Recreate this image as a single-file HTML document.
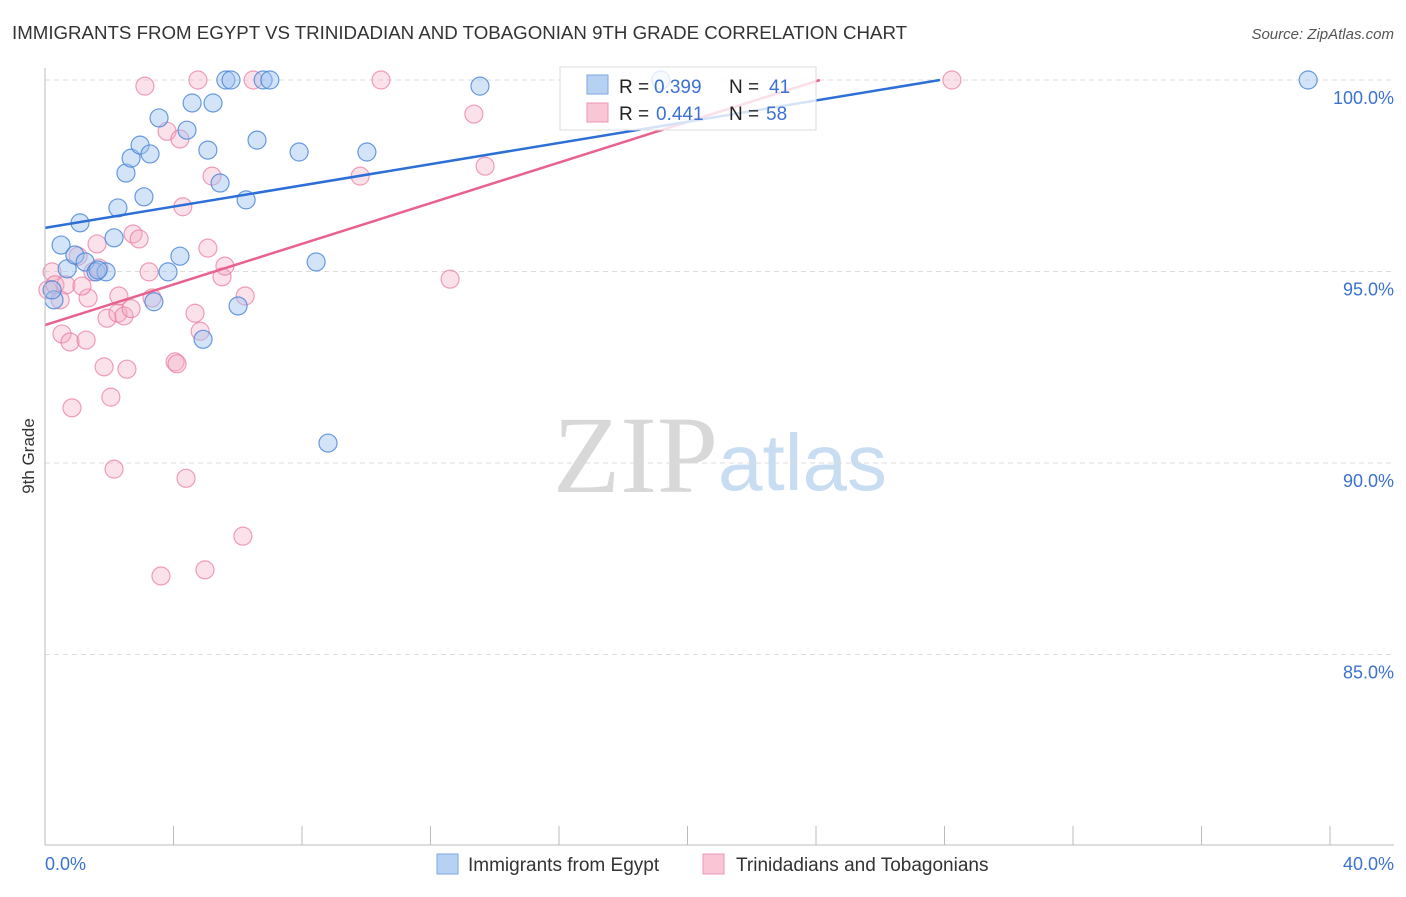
<!DOCTYPE html>
<html><head><meta charset="utf-8"><style>
body{margin:0;background:#fff;font-family:"Liberation Sans",sans-serif;}
</style></head><body>
<svg width="1406" height="892" xmlns="http://www.w3.org/2000/svg" id="svg">
<text x="12" y="39" font-size="18.7" fill="#333">IMMIGRANTS FROM EGYPT VS TRINIDADIAN AND TOBAGONIAN 9TH GRADE CORRELATION CHART</text>
<text x="1394" y="39" font-size="15" fill="#555" font-style="italic" text-anchor="end">Source: ZipAtlas.com</text>
<text x="34" y="456" font-size="17" fill="#333" transform="rotate(-90 34 456)" text-anchor="middle">9th Grade</text>
<text x="553" y="492" font-size="110" fill="#d8d8d8" font-family="Liberation Serif,serif">ZIP</text>
<text x="718" y="490" font-size="80" fill="#c8dcf2">atlas</text>
<g id="grid"></g><g id="pts"></g><g id="lines"></g>
<line x1="45" y1="68" x2="45" y2="845" stroke="#bbb"/>
<line x1="45" y1="845" x2="1394" y2="845" stroke="#bbb"/>
<text x="45" y="870" font-size="18" fill="#3b72d1">0.0%</text>
<text x="1394" y="870" font-size="18" fill="#3b72d1" text-anchor="end">40.0%</text>
<g>
<rect x="560" y="67" width="256" height="63" fill="#fff" fill-opacity="0.8" stroke="#ddd"/>
<rect x="587" y="75" width="21" height="19" fill="#b7d1f3" stroke="#7ea6e0"/>
<rect x="587" y="103" width="21" height="19" fill="#f8c6d5" stroke="#eb97b2"/>
<text x="619" y="93" font-size="19" fill="#222">R =</text>
<text x="654" y="93" font-size="19" fill="#3b72d1">0.399</text>
<text x="729" y="93" font-size="19" fill="#222">N =</text>
<text x="769" y="93" font-size="19" fill="#3b72d1">41</text>
<text x="619" y="120" font-size="19" fill="#222">R =</text>
<text x="656" y="120" font-size="19" fill="#3b72d1">0.441</text>
<text x="729" y="120" font-size="19" fill="#222">N =</text>
<text x="766" y="120" font-size="19" fill="#3b72d1">58</text>
</g>
<g>
<rect x="437" y="854" width="21" height="20" fill="#b7d1f3" stroke="#7ea6e0"/>
<text x="468" y="871" font-size="19" fill="#333">Immigrants from Egypt</text>
<rect x="703" y="854" width="21" height="20" fill="#f8c6d5" stroke="#eb97b2"/>
<text x="736" y="871" font-size="19" fill="#333">Trinidadians and Tobagonians</text>
</g>
</svg>
<script>
const yTicks=[100,95,90,85];
const yTickLabels=["100.0%","95.0%","90.0%","85.0%"];
const xTicks=[0,4,8,12,16,20,24,28,32,36,40];
const blueX=[0.28,0.22,0.5,0.69,0.93,1.09,1.25,1.59,1.9,1.65,2.15,2.27,2.52,2.68,2.96,3.27,3.08,3.39,3.55,3.83,4.2,4.42,4.58,4.92,5.07,5.23,5.45,5.63,5.79,6.01,6.26,6.6,6.79,7.0,7.91,8.44,8.81,10.02,13.54,19.17,39.32];
const blueY=[94.26,94.52,95.69,95.07,95.43,96.27,95.25,94.99,94.99,95.04,95.88,96.66,97.57,97.96,98.3,98.07,96.95,94.21,99.01,94.99,95.4,98.69,99.4,93.23,98.17,99.4,97.31,100,100,94.1,96.87,98.43,100,100,98.12,95.25,90.52,98.12,99.84,100,100];
const pinkX=[0.22,0.09,0.31,0.53,0.65,0.78,0.84,1.03,1.34,1.28,1.62,1.49,1.68,1.84,1.93,2.05,2.15,2.27,2.3,2.46,2.55,2.68,2.74,2.93,3.11,3.24,3.33,3.61,3.8,4.05,4.11,4.2,4.29,4.39,4.67,4.83,4.98,5.07,5.2,5.51,5.6,6.16,6.23,6.48,4.76,9.81,10.46,12.61,13.35,13.7,28.23,0.47,1.15];
const pinkY=[94.99,94.52,94.65,93.37,94.65,93.16,91.44,95.4,94.31,93.21,95.72,94.99,95.09,92.51,93.78,91.72,89.84,93.91,94.36,93.84,92.45,94.03,95.98,95.85,99.84,94.99,94.31,87.05,98.66,92.64,92.59,98.46,96.69,89.6,93.91,93.44,87.21,95.61,97.49,94.86,95.14,88.09,94.36,100,100,97.49,100,94.8,99.11,97.75,100,94.26,94.62];
const blueLine=[[0,96.14],[27.86,100]];
const pinkLine=[[0,93.6],[24.12,100]];
const sx=v=>45+v*32.125, sy=v=>80+(100-v)*38.3;
const NS="http://www.w3.org/2000/svg";
const g=document.getElementById('grid'),p=document.getElementById('pts'),l=document.getElementById('lines');
yTicks.forEach((t,i)=>{
 const ln=document.createElementNS(NS,'line');
 ln.setAttribute('x1',45);ln.setAttribute('x2',1394);ln.setAttribute('y1',sy(t));ln.setAttribute('y2',sy(t));
 ln.setAttribute('stroke','#ddd');ln.setAttribute('stroke-dasharray','5,4');
 
 
 g.appendChild(ln);
 const tx=document.createElementNS(NS,'text');
 tx.setAttribute('x',1394);tx.setAttribute('y',sy(t)+24);tx.setAttribute('text-anchor','end');
 tx.setAttribute('font-size','18');tx.setAttribute('fill','#3b72d1');tx.textContent=yTickLabels[i];
 
 
 g.appendChild(tx);
});
xTicks.forEach(t=>{
 const ln=document.createElementNS(NS,'line');
 ln.setAttribute('x1',sx(t));ln.setAttribute('x2',sx(t));ln.setAttribute('y1',826);ln.setAttribute('y2',845);
 ln.setAttribute('stroke','#bbb');
 
 
 g.appendChild(ln);
});
function dots(xs,ys,fill,stroke,name){
 xs.forEach((x,i)=>{
  const c=document.createElementNS(NS,'circle');
  c.setAttribute('cx',sx(x));c.setAttribute('cy',sy(ys[i]));c.setAttribute('r',9);
  c.setAttribute('fill',fill);c.setAttribute('stroke',stroke);c.setAttribute('stroke-width','1.2');
  
  
  p.appendChild(c);
 });
}
dots(pinkX,pinkY,'rgba(244,168,194,0.35)','rgba(232,120,158,0.7)','trinidad-point');
dots(blueX,blueY,'rgba(160,196,240,0.45)','rgba(70,130,215,0.8)','egypt-point');
function line(pts,col,name){
 const ln=document.createElementNS(NS,'line');
 ln.setAttribute('x1',sx(pts[0][0]));ln.setAttribute('y1',sy(pts[0][1]));
 ln.setAttribute('x2',sx(pts[1][0]));ln.setAttribute('y2',sy(pts[1][1]));
 ln.setAttribute('stroke',col);ln.setAttribute('stroke-width','2.5');
 
 
 l.appendChild(ln);
}
line(pinkLine,'#e8628f','trinidad-trend-line');
line(blueLine,'#2d6fd6','egypt-trend-line');
</script>
</body></html>
